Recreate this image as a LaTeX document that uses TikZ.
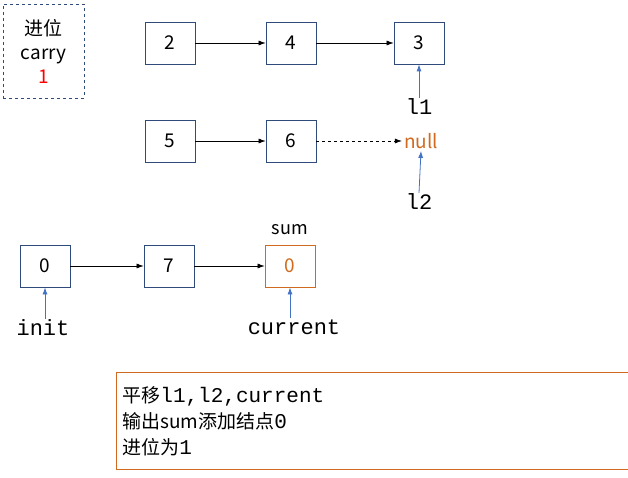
\documentclass[tikz,border=0pt]{standalone}
\usepackage{fontspec}
\setmainfont{Noto Sans CJK SC}
\newfontfamily\mono{Liberation Mono}
\usetikzlibrary{arrows.meta}
\definecolor{bx}{HTML}{2F4B7C}
\definecolor{org}{HTML}{D06A1F}
\definecolor{arrb}{HTML}{4472C4}
\begin{document}
\begin{tikzpicture}[x=1pt,y=-1pt,
  nd/.style={draw=bx,line width=0.8pt,minimum width=50pt,minimum height=42pt,inner sep=0pt,font=\fontsize{19}{21}\selectfont},
  ln/.style={-{Latex[length=7pt,width=5pt]},line width=0.6pt},
  up/.style={-{Latex[length=7pt,width=5pt]},arrb,line width=0.8pt},
  lb/.style={font=\mono\fontsize{22}{24}\selectfont,inner sep=1pt}]
\useasboundingbox (0,0) rectangle (628,478);
\node[draw=bx,dashed,line width=0.8pt,minimum width=81pt,minimum height=94pt,align=center,font=\fontsize{19}{24}\selectfont] (carry) at (43.5,51) {进位\\carry\\\textcolor{red}{1}};
\node[nd] (a2) at (170,43) {2};
\node[nd] (a4) at (291,43) {4};
\node[nd] (a3) at (419,43) {3};
\node[nd] (b5) at (170,141) {5};
\node[nd] (b6) at (291,141) {6};
\node[text=org,font=\fontsize{19}{21}\selectfont,inner sep=2pt] (null) at (421,141) {null};
\node[lb] (l1) at (419,107) {l1};
\node[lb] (l2) at (419,202) {l2};
\node[nd] (c0) at (45,266) {0};
\node[nd] (c7) at (169,266) {7};
\node[nd,draw=org,text=org] (s0) at (290,266) {0};
\node[font=\fontsize{18}{20}\selectfont] (sum) at (290,230) {sum};
\node[lb] (init) at (43,328) {init};
\node[lb] (cur) at (294,327) {current};
\draw[ln] (a2) -- (a4);
\draw[ln] (a4) -- (a3);
\draw[ln] (b5) -- (b6);
\draw[ln,dashed] (b6) -- (null);
\draw[ln] (c0) -- (c7);
\draw[ln] (c7) -- (s0);
\draw[up] (l1.north) -- (a3.south);
\draw[up] (l2.north) -- (null.south);
\draw[up] (init.north -| c0) -- (c0.south);
\draw[up] (cur.north -| s0) -- (s0.south);
\node[draw=org,line width=0.8pt,minimum width=511pt,minimum height=97pt,anchor=north west,align=left,text width=500pt,inner sep=6pt,font=\fontsize{19}{26}\selectfont] (box) at (116,372) {平移{\mono\fontsize{21}{26}\selectfont l1,l2,current}\\输出sum添加结点{\mono\fontsize{21}{26}\selectfont 0}\\进位为{\mono\fontsize{21}{26}\selectfont 1}};
\end{tikzpicture}
\end{document}
